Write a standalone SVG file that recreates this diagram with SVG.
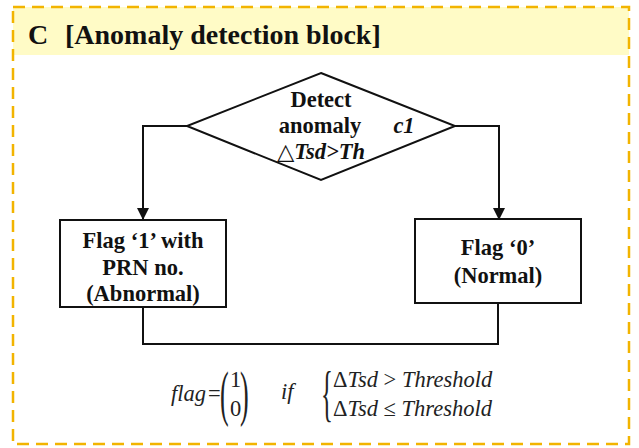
<svg xmlns="http://www.w3.org/2000/svg" width="639" height="448" viewBox="0 0 639 448">
<style>
.t{font-family:'Liberation Serif','DejaVu Serif',serif;font-weight:bold;font-size:22.5px;fill:#111;text-anchor:middle}
.h{font-family:'Liberation Serif','DejaVu Serif',serif;font-weight:bold;font-size:28px;fill:#111}
.m{font-family:'Liberation Serif','DejaVu Serif',serif;font-style:italic;font-size:22.5px;fill:#222}
.r{font-family:'Liberation Serif','DejaVu Serif',serif;font-size:22.5px;fill:#222}
.big{font-family:'Liberation Serif','DejaVu Serif',serif;font-size:62px;fill:#222}
.box{fill:#fff;stroke:#111;stroke-width:2}
.ln{fill:none;stroke:#111;stroke-width:2}
</style>
<defs>
<marker id="ahb" viewBox="0 0 12 12" refX="11" refY="6" markerWidth="12" markerHeight="12" markerUnits="userSpaceOnUse" orient="auto">
<path d="M0,0 L12,6 L0,12 z" fill="#111"/>
</marker>
</defs>
<rect x="0" y="0" width="639" height="448" fill="#fff"/>
<g id="frame">
<rect x="13" y="7" width="616" height="48" fill="#FFFBC6"/>
<rect x="13" y="7" width="616" height="437" fill="none" stroke="#F2B400" stroke-width="2.5" stroke-dasharray="12,7"/>
<text class="h" x="28" y="44">C</text>
<text class="h" x="65" y="44">[Anomaly detection block]</text>
</g>
<g id="connectors">
<polyline class="ln" points="187,126 143,126 143,219" marker-end="url(#ahb)"/>
<polyline class="ln" points="455,126 499,126 499,219" marker-end="url(#ahb)"/>
<polyline class="ln" points="143,307 143,344 498,344 498,303"/>
</g>
<g id="decision">
<polygon class="box" points="321,73 455,126 321,180 187,126"/>
<text class="t" x="321" y="107">Detect</text>
<text class="t" x="320" y="133">anomaly</text>
<text class="t" x="404" y="133" font-style="italic">c1</text>
<text class="t" x="321" y="159" font-style="italic">△Tsd&gt;Th</text>
</g>
<g id="abnormal">
<rect class="box" x="60" y="220" width="166" height="87"/>
<text class="t" x="143" y="248">Flag ‘1’ with</text>
<text class="t" x="143" y="275">PRN no.</text>
<text class="t" x="143" y="301">(Abnormal)</text>
</g>
<g id="normal">
<rect class="box" x="415" y="219" width="166" height="84"/>
<text class="t" x="498" y="255">Flag ‘0’</text>
<text class="t" x="498" y="283">(Normal)</text>
</g>
<g id="formula">
<text class="m" x="171" y="401">flag</text>
<text class="r" x="208" y="401">=</text>
<text class="big" transform="translate(220,414) scale(0.42,1)">(</text>
<text class="r" x="230" y="387">1</text>
<text class="r" x="230" y="416">0</text>
<text class="big" transform="translate(240,414) scale(0.42,1)">)</text>
<text class="m" x="281" y="399">if</text>
<text class="big" transform="translate(321,414) scale(0.4,1)">{</text>
<text class="m" x="333" y="387"><tspan font-style="normal">Δ</tspan>Tsd <tspan font-style="normal">&gt;</tspan> Threshold</text>
<text class="m" x="333" y="416"><tspan font-style="normal">Δ</tspan>Tsd <tspan font-style="normal">≤</tspan> Threshold</text>
</g>
</svg>
